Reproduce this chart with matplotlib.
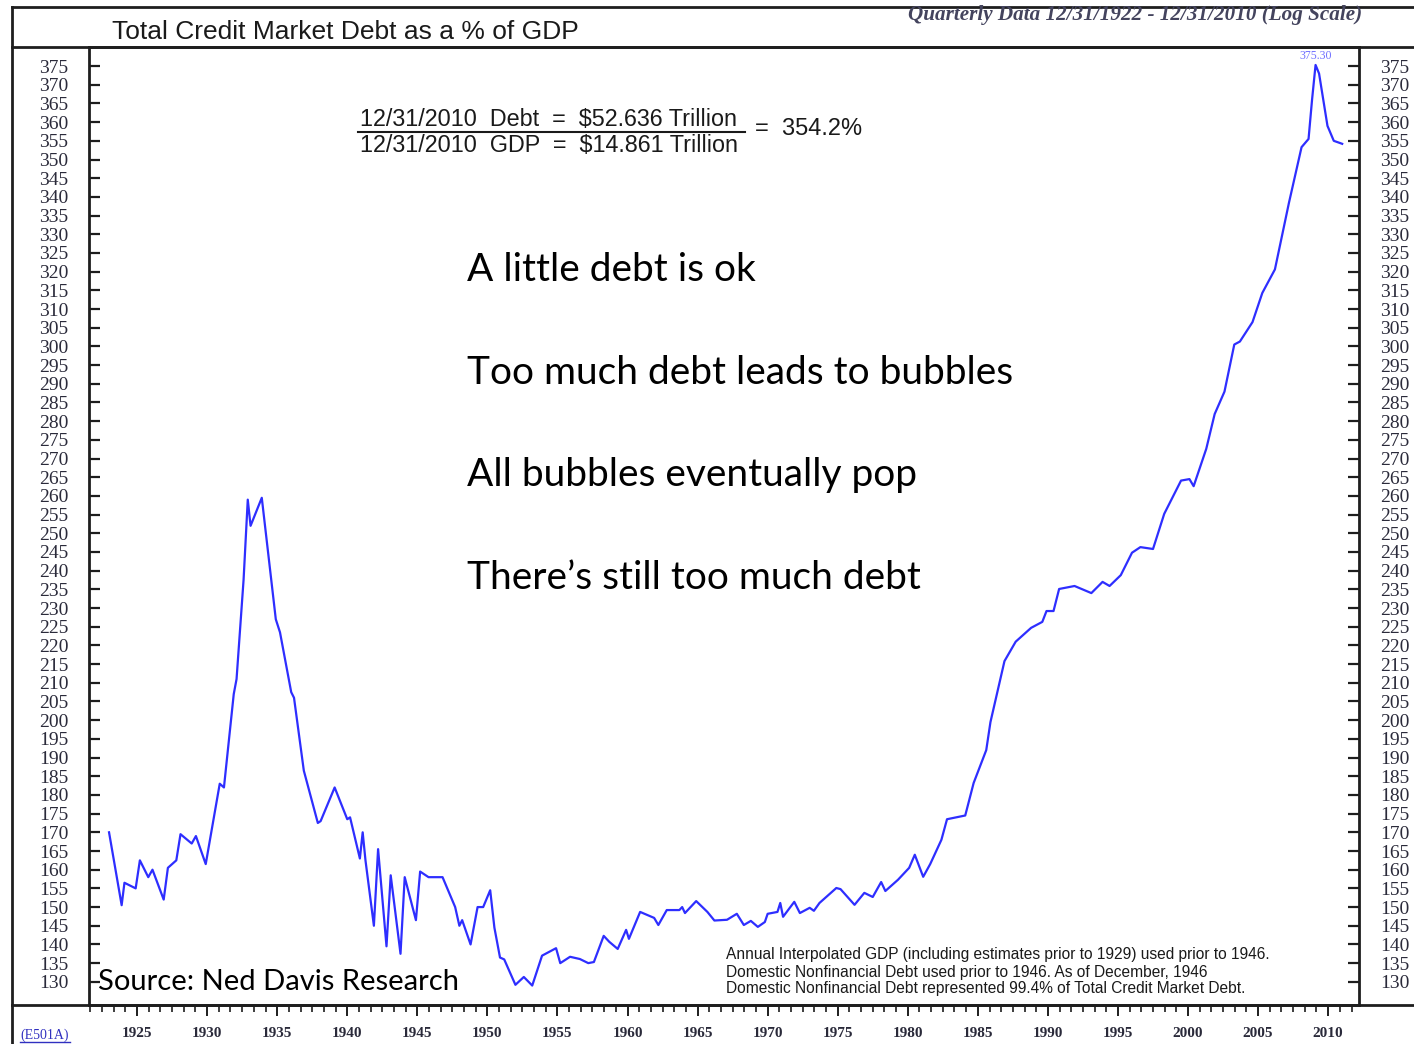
"""Total credit market debt as % of GDP, Ned Davis style chart."""

import matplotlib
matplotlib.use("Agg")
import matplotlib.pyplot as plt
from matplotlib.lines import Line2D
from matplotlib.ticker import MultipleLocator, FixedLocator
import numpy as np

# --- Data ---
years = [1923.0, 1923.9, 1924.1, 1924.9, 1925.2, 1925.8, 1926.1, 1926.9, 1927.2, 1927.8,
         1928.1, 1928.9, 1929.2, 1929.9, 1930.9, 1931.2, 1931.9, 1932.1, 1932.6, 1932.9,
         1933.1, 1933.9, 1934.9, 1935.2, 1936.0, 1936.2, 1936.9, 1937.9, 1938.1, 1939.1,
         1940.0, 1940.2, 1940.9, 1941.1, 1941.3, 1941.9, 1942.2, 1942.8, 1943.1, 1943.8,
         1944.1, 1944.9, 1945.2, 1945.8, 1946.8, 1947.7, 1948.0, 1948.2, 1948.8, 1949.3,
         1949.7, 1950.2, 1950.5, 1950.9, 1951.2, 1952.0, 1952.6, 1953.2, 1953.9, 1954.9,
         1955.2, 1955.9, 1956.6, 1957.2, 1957.6, 1958.3, 1958.7, 1959.3, 1959.9, 1960.1,
         1960.9, 1961.9, 1962.2, 1962.8, 1963.7, 1963.9, 1964.1, 1964.9, 1965.7, 1966.2,
         1967.1, 1967.8, 1968.3, 1968.8, 1969.3, 1969.8, 1970.0, 1970.7, 1970.9, 1971.1,
         1971.9, 1972.3, 1973.0, 1973.3, 1973.7, 1974.9, 1975.2, 1976.2, 1976.9, 1977.5,
         1978.1, 1978.4, 1979.3, 1980.1, 1980.5, 1981.1, 1981.6, 1982.4, 1982.8, 1984.1,
         1984.7, 1985.6, 1985.9, 1986.9, 1987.7, 1988.8, 1989.6, 1989.9, 1990.4, 1990.8,
         1991.9, 1993.1, 1993.9, 1994.4, 1995.2, 1996.0, 1996.6, 1997.5, 1998.3, 1999.5,
         2000.1, 2000.4, 2001.3, 2001.9, 2002.6, 2003.3, 2003.7, 2004.6, 2005.3, 2006.2,
         2007.2, 2008.1, 2008.6, 2008.85, 2009.1, 2009.35, 2009.65, 2009.95, 2010.4, 2011.0]
pct = [170.0, 150.5, 156.5, 155.0, 162.5, 158.0, 160.0, 152.0, 160.5, 162.5,
       169.5, 167.0, 169.0, 161.5, 183.0, 182.0, 207.0, 211.0, 237.5, 259.0,
       252.0, 259.5, 227.0, 223.5, 207.5, 206.0, 186.5, 172.5, 173.0, 182.0,
       173.5, 174.0, 163.0, 170.0, 162.5, 145.0, 165.5, 139.5, 158.5, 137.5,
       158.0, 146.5, 159.5, 158.0, 158.0, 150.0, 145.0, 146.5, 140.0, 150.0,
       150.0, 154.5, 144.5, 136.5, 136.0, 129.2, 131.3, 129.0, 137.0, 139.0,
       135.0, 136.7, 136.1, 135.0, 135.3, 142.3, 140.7, 138.8, 143.9, 141.5,
       148.7, 147.1, 145.2, 149.2, 149.2, 150.0, 148.4, 151.6, 148.7, 146.4,
       146.6, 148.2, 145.2, 146.3, 144.7, 146.0, 148.2, 148.7, 151.1, 147.4,
       151.4, 148.4, 149.8, 149.0, 151.1, 155.1, 154.8, 150.6, 153.8, 152.7,
       156.7, 154.3, 157.3, 160.5, 164.0, 158.1, 161.5, 168.0, 173.5, 174.5,
       183.2, 192.0, 199.5, 215.8, 221.0, 224.7, 226.3, 229.2, 229.2, 235.1,
       235.9, 234.0, 237.0, 235.9, 238.8, 244.8, 246.3, 245.8, 255.2, 264.1,
       264.5, 262.6, 272.6, 281.9, 287.9, 300.5, 301.3, 306.5, 314.3, 320.6,
       338.4, 353.3, 355.5, 366.0, 375.3, 373.0, 366.0, 359.0, 355.0, 354.2]

y_ticks = list(range(130, 380, 5))
x_ticks = list(range(1925, 2011, 5))

messages = ["A little debt is ok",
            "Too much debt leads to bubbles",
            "All bubbles eventually pop",
            "There\u2019s still too much debt"]
footnote = ["Annual Interpolated GDP (including estimates prior to 1929) used prior to 1946.",
            "Domestic Nonfinancial Debt used prior to 1946. As of December, 1946",
            "Domestic Nonfinancial Debt represented 99.4% of Total Credit Market Debt."]

# --- Layout helpers (pixel coords, top-down) ---
W, H = 1414, 1044
fig = plt.figure(figsize=(W / 100, H / 100), dpi=100)


def fx(px):
    return px / W


def fy(py):
    return 1 - py / H


FRAME = "#1e1e1e"
LBL = "#2a2a3a"

ax = fig.add_axes([fx(89), fy(1005), fx(1359) - fx(89), fy(47) - fy(1005)])
ax.plot(years, pct, color="#2e2eff", lw=1.6)
ax.set_xlim(1921.57, 2012.2)
ax.set_ylim(123.8, 380.1)

ax.yaxis.set_major_locator(FixedLocator(y_ticks))
ax.set_yticklabels([str(v) for v in y_ticks])
ax.tick_params(axis="y", direction="in", length=8, width=1.6, color=FRAME,
               left=True, right=True, labelleft=True, labelright=True,
               labelsize=14, labelcolor=LBL, pad=15)
for lab in ax.get_yticklabels():
    lab.set_family("Liberation Serif")

ax.xaxis.set_major_locator(FixedLocator(x_ticks))
ax.xaxis.set_minor_locator(MultipleLocator(5 / 6))
ax.set_xticklabels([str(v) for v in x_ticks])
ax.tick_params(axis="x", which="major", direction="out", length=8, width=1.4,
               color=FRAME, labelsize=11, labelcolor=LBL, pad=8)
ax.tick_params(axis="x", which="minor", direction="out", length=5, width=1.2, color=FRAME)
for lab in ax.get_xticklabels():
    lab.set_family("Liberation Serif")
    lab.set_fontweight("bold")

for s in ax.spines.values():
    s.set_linewidth(2)
    s.set_color(FRAME)

# peak label
imax = int(np.argmax(pct))
ax.annotate(f"{pct[imax]:.2f}", (years[imax], pct[imax]), xytext=(0, 2),
            textcoords="offset points", ha="center", va="bottom",
            fontsize=8.5, color="#7070ff", family="Liberation Serif")

# --- Frame lines ---
for xs, ys in [([fx(12), 1], [fy(7), fy(7)]),
               ([fx(12), 1], [fy(47), fy(47)]),
               ([fx(12), 1], [fy(1005), fy(1005)]),
               ([fx(12), fx(12)], [fy(7), 0])]:
    fig.add_artist(Line2D(xs, ys, transform=fig.transFigure, color=FRAME, lw=2))

# --- Texts ---
fig.text(fx(112), fy(32), "Total Credit Market Debt as a % of GDP", ha="left", va="center",
         fontsize=19, family="Liberation Sans", color="#1a1a1a")
fig.text(fx(1362), fy(15), "Quarterly Data 12/31/1922 - 12/31/2010 (Log Scale)", ha="right",
         va="center", fontsize=15.2, family="Liberation Serif", style="italic",
         fontweight="bold", color="#44445e")

fig.text(fx(360), fy(119), "12/31/2010  Debt  =  $52.636 Trillion", ha="left", va="center",
         fontsize=16.8, family="Liberation Sans", color="#1a1a1a")
fig.text(fx(360), fy(145), "12/31/2010  GDP  =  $14.861 Trillion", ha="left", va="center",
         fontsize=16.8, family="Liberation Sans", color="#1a1a1a")
fig.add_artist(Line2D([fx(358), fx(745)], [fy(132), fy(132)], transform=fig.transFigure,
                      color="#1a1a1a", lw=1.5))
fig.text(fx(755), fy(129), "=  354.2%", ha="left", va="center",
         fontsize=17, family="Liberation Sans", color="#1a1a1a")

for i, msg in enumerate(messages):
    fig.text(fx(467), fy(270 + 102.7 * i), msg, ha="left", va="center",
             fontsize=28, family="Lato", color="black")

fig.text(fx(98), fy(982), "Source: Ned Davis Research", ha="left", va="center",
         fontsize=21, family="Lato", color="black")

for i, line in enumerate(footnote):
    fig.text(fx(726), fy(955 + 17 * i), line, ha="left", va="center",
             fontsize=11.2, family="Liberation Sans", color="#1a1a1a")

fig.text(fx(20), fy(1035), "(E501A)", ha="left", va="center", fontsize=10,
         family="Liberation Serif", color="#3030c0")
fig.add_artist(Line2D([fx(20), fx(70)], [fy(1042), fy(1042)], transform=fig.transFigure,
                      color="#3030c0", lw=1))

fig.savefig("out.png", dpi=100)
